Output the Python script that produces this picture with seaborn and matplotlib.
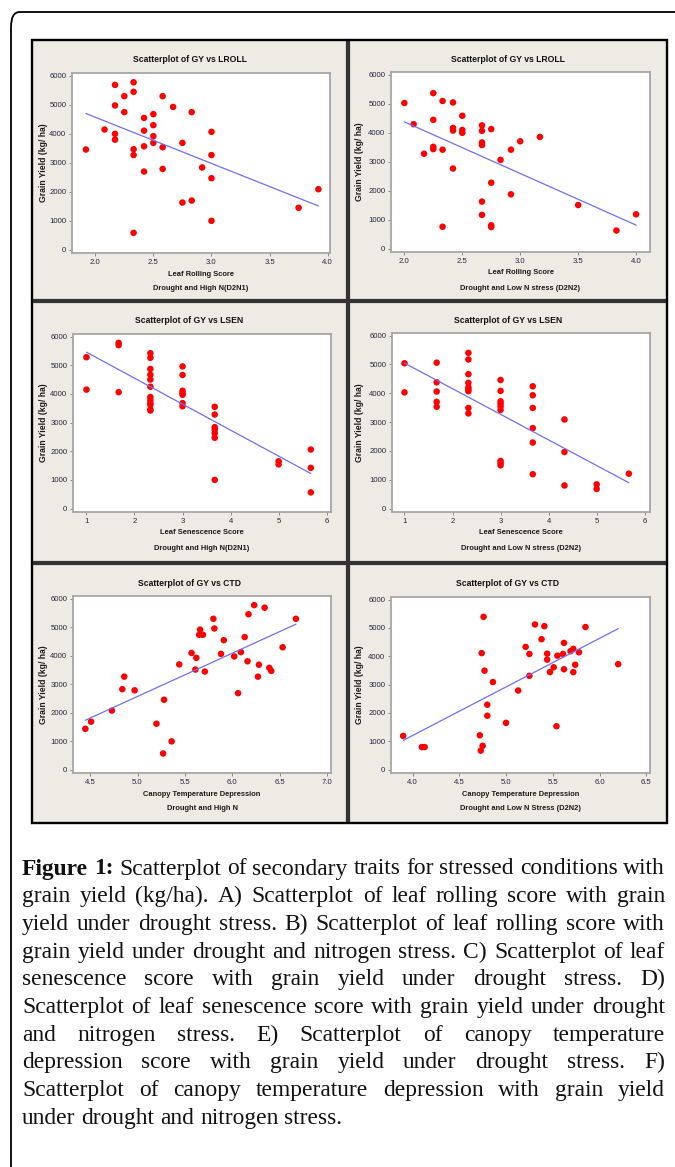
import matplotlib
matplotlib.use("Agg")
import matplotlib.pyplot as plt
from matplotlib.patches import Rectangle, FancyBboxPatch
import seaborn as sns
import pandas as pd

# leaf rolling score vs grain yield, drought + high N (D2N1)
lroll_d2n1 = [1.92, 2.17, 2.33, 2.33, 2.25, 2.17, 2.25, 2.58, 2.67, 2.83, 2.5, 2.42, 2.5, 2.42, 2.08, 2.17, 2.17, 2.5,
              2.5, 2.58, 2.42, 2.33, 2.33, 2.75, 3.0, 3.0, 2.92, 3.0, 2.42, 2.58, 2.75, 2.83, 3.0, 2.33, 3.75, 3.92]
gy_lroll_d2n1 = [3450, 5680, 5770, 5440, 5290, 4970, 4740, 5290, 4920, 4740, 4670, 4540, 4290, 4100, 4140, 3990, 3790,
                 3910, 3680, 3530, 3560, 3460, 3260, 3680, 4060, 3260, 2830, 2460, 2690, 2780, 1620, 1690, 990, 575,
                 1440, 2080]

# leaf rolling score vs grain yield, drought + low N (D2N2)
lroll_d2n2 = [2.0, 2.08, 2.17, 2.25, 2.25, 2.25, 2.25, 2.33, 2.33, 2.33, 2.42, 2.42, 2.42, 2.42, 2.5, 2.5, 2.5, 2.67,
              2.67, 2.67, 2.67, 2.67, 2.67, 2.75, 2.75, 2.75, 2.75, 2.83, 2.92, 2.92, 3.0, 3.17, 3.5, 3.83, 4.0]
gy_lroll_d2n2 = [5020, 4290, 3270, 5360, 4440, 3510, 3430, 5090, 3410, 750, 5040, 4160, 4070, 2760, 4580, 4090, 3990,
                 4250, 4060, 3660, 3570, 1620, 1160, 4120, 2270, 800, 740, 3060, 3410, 1870, 3700, 3850, 1500, 620,
                 1180]

# leaf senescence score, D2N1
lsen_d2n1 = [1, 1, 1.67, 1.67, 1.67,
             2.33, 2.33, 2.33, 2.33, 2.33, 2.33, 2.33, 2.33, 2.33, 2.33, 2.33, 2.33,
             3, 3, 3, 3, 3, 3, 3,
             3.67, 3.67, 3.67, 3.67, 3.67, 3.67, 3.67,
             5, 5, 5.67, 5.67, 5.67]
gy_lsen_d2n1 = [5280, 4150, 5780, 5700, 4060,
                5420, 5260, 4870, 4670, 4500, 4250, 3890, 3780, 3680, 3620, 3460, 3420,
                4960, 4660, 4110, 4030, 3970, 3680, 3570,
                3550, 3280, 2840, 2750, 2630, 2470, 1000,
                1650, 1540, 2060, 1420, 565]

# leaf senescence score, D2N2
lsen_d2n2 = [1, 1, 1.67, 1.67, 1.67, 1.67, 1.67,
             2.33, 2.33, 2.33, 2.33, 2.33, 2.33, 2.33, 2.33, 2.33,
             3, 3, 3, 3, 3, 3, 3, 3, 3,
             3.67, 3.67, 3.67, 3.67, 3.67, 3.67,
             4.33, 4.33, 4.33, 5, 5, 5.67]
gy_lsen_d2n2 = [5040, 4030, 5060, 4380, 4060, 3700, 3530,
                5400, 5170, 4660, 4360, 4210, 4140, 4070, 3490, 3300,
                4460, 4080, 3720, 3640, 3540, 3420, 1650, 1580, 1500,
                4240, 3930, 3490, 2790, 2290, 1190,
                3090, 1960, 800, 840, 680, 1210]

# canopy temperature depression, D2N1
ctd_d2n1 = [4.45, 4.51, 4.73, 4.84, 4.86, 4.97, 5.20, 5.27, 5.28, 5.36, 5.44, 5.57, 5.62, 5.61, 5.71, 5.66, 5.65, 5.69,
            5.80, 5.81, 5.91, 5.88, 6.02, 6.09, 6.06, 6.13, 6.16, 6.17, 6.23, 6.27, 6.28, 6.34, 6.39, 6.41, 6.53, 6.67]
gy_ctd_d2n1 = [1430, 1680, 2070, 2820, 3260, 2780, 1610, 565, 2450, 990, 3690, 4090, 3920, 3510, 3440, 4910, 4730,
               4730, 5290, 4950, 4540, 4060, 3970, 4120, 2680, 4650, 3800, 5450, 5770, 3260, 3680, 5680, 3570, 3460,
               4290, 5290]

# canopy temperature depression, D2N2
ctd_d2n2 = [3.90, 4.10, 4.13, 4.72, 4.73, 4.75, 4.74, 4.76, 4.77, 4.86, 4.80, 4.80, 5.00, 5.13, 5.21, 5.25, 5.25, 5.31,
            5.38, 5.41, 5.44, 5.44, 5.47, 5.51, 5.54, 5.55, 5.61, 5.62, 5.62, 5.69, 5.72, 5.72, 5.74, 5.78, 5.85, 6.20]
gy_ctd_d2n2 = [1190, 795, 795, 1210, 670, 840, 4110, 5390, 3490, 3090, 2290, 1900, 1650, 2790, 4330, 4080, 3310, 5120,
               4600, 5060, 4090, 3880, 3440, 3610, 1530, 4020, 4080, 4470, 3540, 4180, 4260, 3440, 3700, 4140, 5030,
               3720]

titles = ["Scatterplot of GY vs LROLL", "Scatterplot of GY vs LROLL",
          "Scatterplot of GY vs LSEN", "Scatterplot of GY vs LSEN",
          "Scatterplot of GY vs CTD", "Scatterplot of GY vs CTD"]
xlabels = ["Leaf Rolling Score", "Leaf Rolling Score",
           "Leaf Senescence Score", "Leaf Senescence Score",
           "Canopy Temperature Depression", "Canopy Temperature Depression"]
subtitles = ["Drought and High N(D2N1)", "Drought and Low N stress (D2N2)",
             "Drought and High N(D2N1)", "Drought and Low N stress (D2N2)",
             "Drought and High N", "Drought and Low N Stress (D2N2)"]
yticks = [0, 1000, 2000, 3000, 4000, 5000, 6000]
xticks_lroll = [2.0, 2.5, 3.0, 3.5, 4.0]
xticks_lsen = [1, 2, 3, 4, 5, 6]
xticks_ctd1 = [4.5, 5.0, 5.5, 6.0, 6.5, 7.0]
xticks_ctd2 = [4.0, 4.5, 5.0, 5.5, 6.0, 6.5]

caption = [
    "Figure 1: Scatterplot of secondary traits for stressed conditions with",
    "grain yield (kg/ha). A) Scatterplot of leaf rolling score with grain",
    "yield under drought stress. B) Scatterplot of leaf rolling score with",
    "grain yield under drought and nitrogen stress. C) Scatterplot of leaf",
    "senescence score with grain yield under drought stress. D)",
    "Scatterplot of leaf senescence score with grain yield under drought",
    "and nitrogen stress. E) Scatterplot of canopy temperature",
    "depression score with grain yield under drought stress. F)",
    "Scatterplot of canopy temperature depression with grain yield",
    "under drought and nitrogen stress.",
]

W, H = 675, 1167
sns.set_style("white")
plt.rcParams['font.family'] = ['Liberation Sans', 'DejaVu Sans']

fig = plt.figure(figsize=(W / 100, H / 100), dpi=100)
fig.patch.set_facecolor("white")


def fbox(x0, y0, x1, y1):
    return [x0 / W, 1 - y1 / H, (x1 - x0) / W, (y1 - y0) / H]


def fx(x):
    return x / W


def fy(y):
    return 1 - y / H


# outer rounded frame, open to the right and bottom
frame = FancyBboxPatch((fx(11), fy(1200)), fx(700), fy(12) - fy(1200),
                       boxstyle="round,pad=0,rounding_size=0.013", transform=fig.transFigure,
                       fill=False, edgecolor="black", lw=1.3, clip_on=False, zorder=-2)
fig.patches.append(frame)

panels = [
    (lroll_d2n1, gy_lroll_d2n1, (32, 40, 347, 300), (72, 73, 330, 253), (1.8, 4.02), xticks_lroll),
    (lroll_d2n2, gy_lroll_d2n2, (349, 40, 667, 300), (391, 72, 650, 252), (1.885, 4.12), xticks_lroll),
    (lsen_d2n1, gy_lsen_d2n1, (32, 302, 347, 562), (73, 334, 331, 512), (0.72, 6.09), xticks_lsen),
    (lsen_d2n2, gy_lsen_d2n2, (349, 302, 667, 562), (392, 333, 650, 512), (0.74, 6.11), xticks_lsen),
    (ctd_d2n1, gy_ctd_d2n1, (32, 564, 347, 823), (73, 596, 331, 773), (4.32, 7.04), xticks_ctd1),
    (ctd_d2n2, gy_ctd_d2n2, (349, 564, 667, 823), (391, 597, 650, 773), (3.77, 6.54), xticks_ctd2),
]

tick_color = "#262640"
label_color = "#1a1a1a"
for i, (xv, yv, pbox, abox, xlim, xt) in enumerate(panels):
    # panel background
    fig.patches.append(Rectangle((fx(pbox[0]), fy(pbox[3])), fx(pbox[2] - pbox[0]), fy(pbox[1]) - fy(pbox[3]),
                                 transform=fig.transFigure, facecolor="#eeebe4", edgecolor="#333333", lw=1.6,
                                 zorder=-1))
    ax = fig.add_axes(fbox(*abox))
    df = pd.DataFrame({"x": xv, "y": yv})
    sns.regplot(data=df, x="x", y="y", ax=ax, ci=None,
                scatter_kws=dict(s=22, color="#ff0000", edgecolors="none", alpha=1),
                line_kws=dict(color="#6f6ff5", lw=0.9))
    ax.set_facecolor("white")
    ax.set_xlim(*xlim)
    ax.set_ylim(-120, 6090)
    ax.set_xticks(xt)
    ax.set_yticks(yticks)
    ax.set_xlabel("")
    ax.set_ylabel("")
    ax.tick_params(axis="both", direction="out", length=2.5, width=0.6, color="#777777",
                   labelsize=5.6, labelcolor=tick_color, pad=1.5, bottom=True, left=True)
    for sp in ax.spines.values():
        sp.set_color("#a6a6a6")
        sp.set_linewidth(1.3)

    pcx = (pbox[0] + pbox[2]) / 2
    acx = (abox[0] + abox[2]) / 2
    fig.text(fx(pcx), fy(pbox[1] + 19), titles[i], ha="center", va="center",
             fontsize=6.2, fontweight="bold", color="#111111")
    fig.text(fx(acx), fy(abox[3] + 21), xlabels[i], ha="center", va="center",
             fontsize=5.4, fontweight="bold", color=label_color)
    fig.text(fx(acx), fy(abox[3] + 36), subtitles[i], ha="center", va="center",
             fontsize=5.4, fontweight="bold", color=label_color)
    fig.text(fx(pbox[0] + 11), fy((abox[1] + abox[3]) / 2), "Grain Yield (kg/ ha)", ha="center", va="center",
             rotation=90, fontsize=6.2, fontweight="bold", color=label_color)

# outer frame around the six panels
fig.patches.append(Rectangle((fx(32), fy(823)), fx(635), fy(40) - fy(823), transform=fig.transFigure,
                             fill=False, edgecolor="black", lw=1.6, zorder=-0.5))

# justified caption
renderer = fig.canvas.get_renderer()
left, right = 22, 665
serif = ["Liberation Serif", "DejaVu Serif"]

# size the caption so the first (tightly set) line fills the column
probe = fig.text(0, 0, caption[0], fontsize=10, family=serif)
cap_fs = 10 * (right - left - 4) / probe.get_window_extent(renderer).width
probe.remove()
space_px = 0.25 * cap_fs * 100 / 72

for li, line in enumerate(caption):
    ypos = fy(869 + li * 27.7)
    words = line.split(" ")
    items = []
    for wi, w in enumerate(words):
        bold = li == 0 and wi < 2
        t = fig.text(0, ypos, w, fontsize=cap_fs, family=serif, va="center", ha="left",
                     fontweight="bold" if bold else "normal", color="#111111")
        items.append((t, t.get_window_extent(renderer).width))
    total = sum(wd for _, wd in items)
    if li == len(caption) - 1 or len(items) == 1:
        gap = space_px
    else:
        gap = (right - left - total) / (len(items) - 1)
    xpos = left
    for t, wd in items:
        t.set_x(fx(xpos))
        xpos += wd + gap

fig.savefig("out.png", dpi=100)
